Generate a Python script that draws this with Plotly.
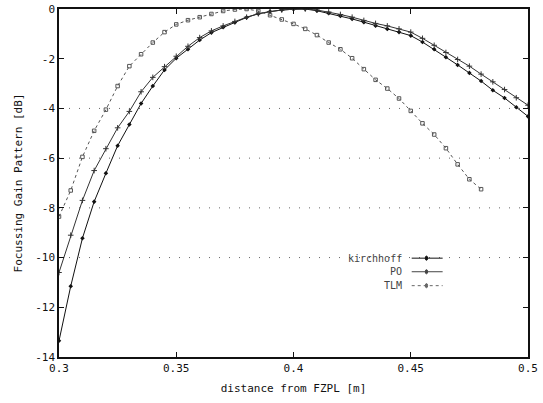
import plotly.graph_objects as go

# distance from FZPL [m]
x_k = [0.300, 0.305, 0.310, 0.315, 0.320, 0.325, 0.330, 0.335, 0.340, 0.345,
       0.350, 0.355, 0.360, 0.365, 0.370, 0.375, 0.380, 0.385, 0.390, 0.395,
       0.400, 0.405, 0.410, 0.415, 0.420, 0.425, 0.430, 0.435, 0.440, 0.445,
       0.450, 0.455, 0.460, 0.465, 0.470, 0.475, 0.480, 0.485, 0.490, 0.495, 0.500]
kirchhoff = [-13.35, -11.15, -9.22, -7.75, -6.61, -5.50, -4.65, -3.80, -3.10, -2.45,
             -1.98, -1.62, -1.25, -0.95, -0.73, -0.54, -0.34, -0.19, -0.10, -0.04,
             -0.01, 0.00, -0.07, -0.17, -0.28, -0.40, -0.53, -0.67, -0.80, -0.93,
             -1.07, -1.33, -1.62, -1.94, -2.25, -2.57, -2.90, -3.27, -3.58, -3.95, -4.32]
po = [-10.60, -9.10, -7.70, -6.50, -5.62, -4.78, -4.12, -3.33, -2.75, -2.32,
      -1.90, -1.50, -1.15, -0.88, -0.68, -0.50, -0.33, -0.19, -0.10, -0.04,
      -0.01, 0.00, -0.04, -0.12, -0.22, -0.33, -0.46, -0.58, -0.68, -0.80,
      -0.93, -1.18, -1.46, -1.75, -2.03, -2.30, -2.62, -2.93, -3.24, -3.57, -3.87]
x_t = x_k[:37]
tlm = [-8.35, -7.30, -5.95, -4.90, -4.05, -3.10, -2.30, -1.82, -1.35, -0.93,
       -0.62, -0.45, -0.33, -0.20, -0.08, -0.02, 0.00, -0.08, -0.25, -0.42,
       -0.60, -0.80, -1.05, -1.35, -1.62, -1.98, -2.42, -2.85, -3.20, -3.60,
       -4.10, -4.60, -5.05, -5.60, -6.25, -6.85, -7.25]

x_ticks = [0.3, 0.35, 0.4, 0.45, 0.5]
x_labels = ["0.3", "0.35", "0.4", "0.45", "0.5"]
y_ticks = [0, -2, -4, -6, -8, -10, -12, -14]
y_labels = ["0", "-2", "-4", "-6", "-8", "-10", "-12", "-14"]
grid_levels = [-4, -6, -8, -10]

series_names = ["kirchhoff", "PO", "TLM"]

MONO = "DejaVu Sans Mono, Liberation Mono, monospace"

fig = go.Figure()
fig.add_trace(go.Scatter(x=x_k, y=kirchhoff, mode="lines+markers", name=series_names[0],
                         line=dict(color="#111", width=1),
                         marker=dict(symbol="diamond", size=3.5, color="#111"),
                         showlegend=False))
fig.add_trace(go.Scatter(x=x_k, y=po, mode="lines+markers", name=series_names[1],
                         line=dict(color="#333", width=1),
                         marker=dict(symbol="cross-thin", size=4, line=dict(color="#333", width=1)),
                         showlegend=False))
fig.add_trace(go.Scatter(x=x_t, y=tlm, mode="lines+markers", name=series_names[2],
                         line=dict(color="#555", width=1, dash="dot"),
                         marker=dict(symbol="square-open", size=3.5, color="#555", line=dict(width=1)),
                         showlegend=False))

shapes = []
for g in grid_levels:
    shapes.append(dict(type="line", xref="paper", yref="y", x0=0, x1=1, y0=g, y1=g,
                       line=dict(color="#666", width=1, dash="1px,9px"), layer="below"))

# custom legend (text right-aligned, sample line to its right)
leg_y = [0.284, 0.245, 0.205]
leg_dash = ["solid", "solid", "dot"]
leg_col = ["#111", "#444", "#666"]
annotations = []
for i, nm in enumerate(series_names):
    annotations.append(dict(text=nm, xref="paper", yref="paper", x=0.735, y=leg_y[i],
                            xanchor="right", yanchor="middle", showarrow=False,
                            font=dict(family=MONO, size=10, color="#444")))
    shapes.append(dict(type="line", xref="paper", yref="paper", x0=0.752, x1=0.818,
                       y0=leg_y[i], y1=leg_y[i], line=dict(color=leg_col[i], width=1, dash=leg_dash[i])))
    shapes.append(dict(type="circle", xref="paper", yref="paper",
                       x0=0.781, x1=0.786, y0=leg_y[i] - 0.006, y1=leg_y[i] + 0.006,
                       line=dict(color=leg_col[i], width=1),
                       fillcolor=leg_col[i]))

fig.update_layout(
    width=543, height=403,
    margin=dict(l=59, r=15, t=9, b=46, autoexpand=False),
    paper_bgcolor="white", plot_bgcolor="white",
    font=dict(family=MONO, size=11, color="#111"),
    shapes=shapes, annotations=annotations,
)
fig.update_xaxes(range=[0.3, 0.5], tickvals=x_ticks, ticktext=x_labels, automargin=False,
                 showline=True, linecolor="#111", linewidth=1.5, mirror="ticks",
                 ticks="inside", ticklen=5, tickcolor="#111", showgrid=False, zeroline=False,
                 title=dict(text="distance from FZPL [m]", font=dict(family=MONO, size=11), standoff=10))
fig.update_yaxes(range=[-14, 0], tickvals=y_ticks, ticktext=y_labels, automargin=False,
                 showline=True, linecolor="#111", linewidth=1.5, mirror="ticks",
                 ticks="inside", ticklen=5, tickcolor="#111", showgrid=False, zeroline=False,
                 title=dict(text="Focussing Gain Pattern [dB]", font=dict(family=MONO, size=11), standoff=10))

fig.write_html("out.html", config={"displayModeBar": False},
               post_script="document.body.style.margin='0';")
